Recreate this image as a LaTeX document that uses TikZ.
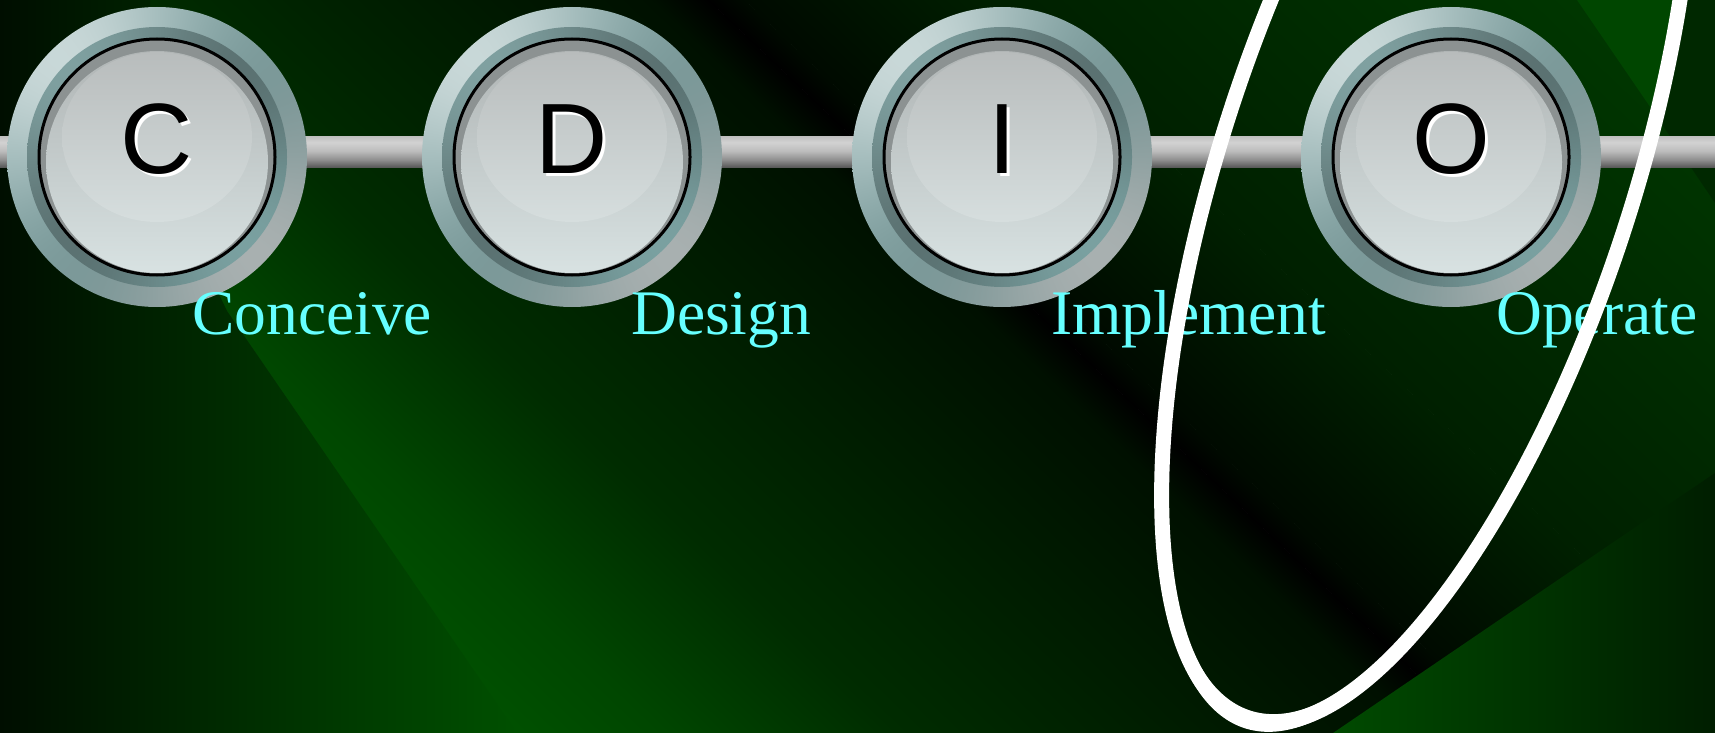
\documentclass[tikz,border=0pt]{standalone}
\usepackage{fontspec}
\setmainfont{Liberation Serif}
\newfontfamily\keyfont{Liberation Sans}

% background greens
\definecolor{bgGreen}{RGB}{0,80,0}
\definecolor{bgHigh}{RGB}{0,70,0}
\definecolor{bgMid}{RGB}{0,44,0}
\definecolor{bgLow}{RGB}{0,36,0}
\definecolor{bgDeep}{RGB}{0,16,0}
\definecolor{bgRa}{RGB}{0,10,0}
\definecolor{bgRb}{RGB}{0,32,0}
\definecolor{bgRc}{RGB}{0,60,0}
\definecolor{edgeDark}{RGB}{0,14,0}
\definecolor{edgeMid}{RGB}{0,58,0}
\definecolor{edgeLight}{RGB}{0,80,0}
\definecolor{cornerLight}{RGB}{0,74,0}
\definecolor{cornerDark}{RGB}{0,30,0}
\definecolor{stripeGreen}{RGB}{0,70,0}
\definecolor{cornerShade}{RGB}{0,40,0}
% key caps
\definecolor{faceshadow}{RGB}{140,146,146}
\definecolor{facetop}{RGB}{176,181,181}
\definecolor{facebot}{RGB}{216,226,226}
\definecolor{glowtop}{RGB}{184,188,188}
\definecolor{glowbot}{RGB}{214,222,222}
% rod
\definecolor{barA}{RGB}{90,90,90}
\definecolor{barB}{RGB}{142,142,142}
\definecolor{barC}{RGB}{189,189,189}
\definecolor{barD}{RGB}{210,210,210}
\definecolor{barE}{RGB}{194,194,194}
\definecolor{labelcyan}{RGB}{102,255,255}

\pgfdeclareverticalshading{barshade}{100bp}{color(0bp)=(barA); color(25bp)=(barA); color(37bp)=(barB); color(52bp)=(barC); color(66bp)=(barD); color(75bp)=(barE); color(100bp)=(barE)}

% brushed-metal rings: brightness varies with the angle around the centre
\pgfdeclarefunctionalshading{ringouter}{\pgfpoint{-50bp}{-50bp}}{\pgfpoint{50bp}{50bp}}{}{
  exch 0.001 add atan dup 135 sub cos exch 2 mul 270 sub cos
  2 copy 0.116 mul exch 0.063 mul add 0.606 add 3 1 roll
  2 copy 0.080 mul exch 0.078 mul add 0.688 add 3 1 roll
  0.080 mul exch 0.078 mul add 0.688 add
}
\pgfdeclarefunctionalshading{ringinner}{\pgfpoint{-50bp}{-50bp}}{\pgfpoint{50bp}{50bp}}{}{
  exch 0.001 add atan dup 135 sub cos exch 2 mul 270 sub cos
  2 copy 0.065 mul exch 0.010 mul add 0.422 add 3 1 roll
  2 copy 0.090 mul exch 0.000 mul add 0.537 add 3 1 roll
  0.090 mul exch 0.000 mul add 0.537 add
}

\tikzset{
  ringnode/.style={circle, inner sep=0pt, shade},
  keyletter/.style={font=\keyfont\fontsize{100}{110}\selectfont, inner sep=0pt, anchor=base},
  phase/.style={font=\fontsize{63.5}{70}\selectfont, text=labelcyan, inner sep=0pt, anchor=base west},
  loop/.style={white, line width=15pt, line join=round}
}

\begin{document}
\begin{tikzpicture}[x=1pt, y=-1pt]
\useasboundingbox (0,0) rectangle (1715,733);
\clip (0,0) rectangle (1715,733);

% diagonal dark band with green on both sides
\begin{scope}[transform canvas={shift={(708,0)}, rotate=46.4}]
  \fill[bgGreen] (-1500,-1700) rectangle (-659,1700);
  \shade[left color=bgGreen, right color=bgHigh] (-660,-1700) rectangle (-559,1700);
  \shade[left color=bgHigh, right color=bgMid] (-560,-1700) rectangle (-399,1700);
  \shade[left color=bgMid, right color=bgLow] (-400,-1700) rectangle (-299,1700);
  \shade[left color=bgLow, right color=bgDeep] (-300,-1700) rectangle (-39,1700);
  \shade[left color=bgDeep, right color=black] (-40,-1700) rectangle (0.5,1700);
  \shade[left color=black, right color=bgRa] (0,-1700) rectangle (25.5,1700);
  \shade[left color=bgRa, right color=bgRb] (25,-1700) rectangle (200.5,1700);
  \shade[left color=bgRb, right color=bgRc] (200,-1700) rectangle (700.5,1700);
  \fill[bgRc] (700,-1700) rectangle (1500,1700);
\end{scope}

% left panel
\shade[left color=edgeDark, middle color=edgeMid, right color=edgeLight]
  (0,0) -- (150,0) -- (150,150) -- (227,311) -- (517,733) -- (0,733) -- cycle;
% lower right panel
\shade[left color=cornerLight, right color=cornerDark]
  (1333,733) -- (1715,473) -- (1715,733) -- cycle;
% upper right panels
\fill[stripeGreen] (1577,0) -- (1684,0) -- (1657,117) -- cycle;
\fill[cornerShade] (1684,0) -- (1715,0) -- (1715,203) -- (1657,117) -- cycle;

% rod behind the keys
\shade[shading=barshade] (0,137) rectangle (1715,167);

% keys
\foreach \nm/\cx in {C/157, D/572, I/1002, O/1451} {
  \node[ringnode, minimum size=300pt, shading=ringouter] (rim\nm) at (\cx,157) {};
  \node[ringnode, minimum size=260pt, shading=ringinner] (bevel\nm) at (\cx,157) {};
  \node[circle, inner sep=0pt, minimum size=236pt, fill=faceshadow] (cap\nm) at (\cx,157) {};
  \shade[top color=facetop, bottom color=facebot] (\cx,162) circle[radius=111pt];
  \shade[top color=glowtop, bottom color=glowbot] (\cx,137) ellipse[x radius=95pt, y radius=85pt];
  \draw[black, line width=3pt] (cap\nm.center) circle[radius=118pt];
  \node[keyletter, text=white] (shadow\nm) at (\cx+3,176) {\nm};
  \node[keyletter, text=black] (key\nm) at (\cx,173) {\nm};
}

% phase names
\foreach \nm/\lx/\lab in {C/192/Conceive, D/631/Design, I/1051/Implement, O/1496/Operate} {
  \node[phase] (label\nm) at (\lx,334) {\lab};
}

% tilted loop around Implement and Operate
\draw[loop] plot[domain=0:360, samples=721]
  ({1427.4+214.9*cos(\x)-156.4*sin(\x)}, {170+553*sin(\x)}) -- cycle;
\fill[white, even odd rule]
  plot[domain=0:360, samples=721]
    ({1427.4+1.016*(214.9*cos(\x)-156.4*sin(\x))}, {170+1.016*553*sin(\x)}) -- cycle
  plot[domain=0:360, samples=721]
    ({1427.4+0.984*(214.9*cos(\x)-156.4*sin(\x))}, {170+0.984*553*sin(\x)}) -- cycle;
\end{tikzpicture}
\end{document}
